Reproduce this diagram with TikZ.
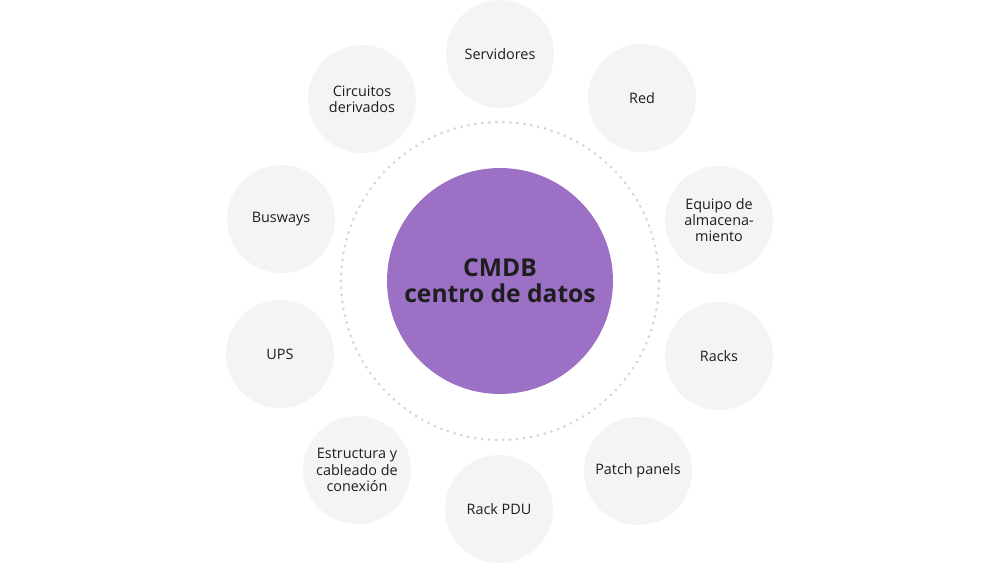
\documentclass[tikz,border=0pt]{standalone}
\usepackage{fontspec}
\setmainfont{Open Sans}
\usepackage{xcolor}
\usepackage{tikz}
\definecolor{bg}{HTML}{FFFFFF}
\definecolor{hubfill}{HTML}{9B70C5}
\definecolor{leaffill}{HTML}{F4F4F4}
\definecolor{ringcol}{HTML}{D6D6D6}
\definecolor{ink}{HTML}{1E1E1E}
\tikzset{
  hub/.style={circle, fill=hubfill, minimum size=4.52cm, inner sep=0pt, align=center,
    text=ink, font=\fontsize{14}{15}\selectfont\bfseries},
  leaf/.style={circle, fill=leaffill, minimum size=2.16cm, inner sep=0pt, align=center,
    text=ink, font=\fontsize{8.2}{9.2}\selectfont},
  ring/.style={draw=ringcol, line width=1.4pt, line cap=round, dash pattern=on 0.4pt off 3.6pt},
}
\begin{document}
\begin{tikzpicture}[x=0.02cm,y=-0.02cm]
  \useasboundingbox[fill=bg] (0,0) rectangle (1000,563);
  \coordinate (O) at (500,281);
  \draw[ring] (O) circle (3.18cm);
  \node[hub] (cmdb) at (O) {CMDB\\centro de datos};
  % outer items, clockwise from the top
  \node[leaf] (srv) at (500,54) {Servidores};
  \node[leaf] (red) at (642,98) {Red};
  \node[leaf] (alm) at (719,220) {Equipo de\\almacena-\\miento};
  \node[leaf] (rck) at (719,356) {Racks};
  \node[leaf] (pat) at (638,471) {Patch panels};
  \node[leaf] (pdu) at (499,509) {Rack PDU};
  \node[leaf] (est) at (357,470) {Estructura y\\cableado de\\conexión};
  \node[leaf] (ups) at (280,354) {UPS};
  \node[leaf] (bus) at (281,219) {Busways};
  \node[leaf] (cir) at (362,99) {Circuitos\\derivados};
\end{tikzpicture}
\end{document}
